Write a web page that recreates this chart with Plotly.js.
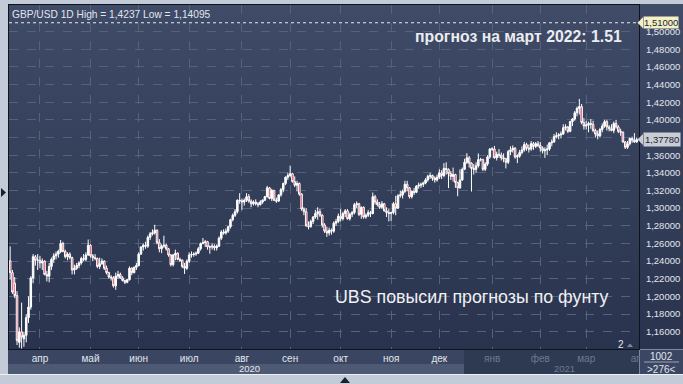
<!DOCTYPE html>
<html><head><meta charset="utf-8">
<script src="https://cdn.plot.ly/plotly-3.0.1.min.js"></script>
<style>
html,body{margin:0;padding:0;background:#c2cbd7;}
#wrap{position:relative;width:683px;height:384px;overflow:hidden;background:#c2cbd7;}
.bg{position:absolute;}
#chart{position:absolute;left:0;top:0;width:683px;height:384px;}
</style></head><body>
<div id="wrap">
 <div class="bg" style="left:8px;top:4px;width:675px;height:345px;background:linear-gradient(#3f4b67,#29334d);"></div>
 <div class="bg" style="left:8px;top:349px;width:631px;height:15px;background:#3a4661"></div>
 <div class="bg" style="left:8px;top:364px;width:631px;height:10px;background:#4e5a73"></div>
 <div class="bg" style="left:464px;top:349px;width:175px;height:25px;background:#2e3952"></div>
 <div class="bg" style="left:0;top:374px;width:683px;height:1px;background:#eef1f5"></div>
 <div id="chart"></div>
</div>
<script>
// ---- data (GBP/USD daily, 13 Mar 2020 .. 31 Mar 2021) ----
const startDate = '2020-03-13';
const endDate = '2021-03-31';

const open = [
 1.2405,1.2270,1.2150,1.2010,1.1480,1.1600,1.1520,1.1560,1.1760,1.1880,1.2210,1.2450,1.2410,
 1.2410,1.2380,1.2400,1.2250,1.2230,1.2340,1.2420,1.2460,1.2480,1.2510,1.2600,1.2510,1.2450,1.2480,1.2440,1.2300,1.2320,1.2350,1.2380,1.2430,1.2420,1.2470,
 1.2580,1.2460,1.2440,1.2430,1.2340,1.2370,1.2400,1.2320,1.2270,1.2220,1.2210,1.2120,1.2230,1.2250,1.2210,1.2180,1.2160,1.2190,1.2320,1.2270,1.2330,
 1.2350,1.2480,1.2560,1.2580,1.2570,1.2670,1.2710,1.2720,1.2750,1.2610,1.2540,1.2570,1.2580,1.2540,1.2470,1.2360,1.2470,1.2490,1.2420,1.2410,1.2340,1.2320,
 1.2400,1.2470,1.2475,1.2480,1.2490,1.2540,1.2600,1.2610,1.2620,1.2560,1.2560,1.2570,1.2550,1.2570,1.2660,1.2730,1.2720,1.2740,1.2790,1.2870,1.2920,1.2960,1.3090,
 1.3085,1.3070,1.3090,1.3130,1.3080,1.3050,1.3070,1.3050,1.3040,1.3070,1.3090,1.3130,1.3230,1.3110,1.3200,1.3090,1.3080,1.3150,1.3210,1.3280,1.3350,
 1.3370,1.3390,1.3300,1.3260,1.3280,1.3160,1.2990,1.2960,1.2800,1.2790,1.2850,1.2900,1.2940,1.2960,1.2920,1.2810,1.2740,1.2720,1.2750,1.2740,1.2830,1.2850,
 1.2910,1.2880,1.2940,1.2970,1.2880,1.2930,1.2950,1.3040,1.3050,1.2930,1.3010,1.2900,1.2920,1.2950,1.2940,1.3130,1.3070,1.3040,1.3010,1.3050,1.2970,1.2950,
 1.2940,1.2950,1.3050,1.3000,1.3140,1.3150,1.3190,1.3270,1.3230,1.3130,1.3190,1.3180,1.3250,1.3260,1.3270,1.3285,1.3320,1.3360,1.3370,1.3340,1.3320,
 1.3350,1.3400,1.3370,1.3450,1.3440,1.3390,1.3360,1.3380,1.3290,1.3230,1.3320,1.3440,1.3520,1.3570,1.3510,1.3450,1.3440,1.3480,1.3550,1.3550,1.3440,1.3500,1.3580,
 1.3670,1.3670,1.3570,1.3610,1.3600,1.3570,1.3560,1.3520,1.3640,1.3660,1.3680,1.3580,1.3590,1.3630,1.3660,1.3720,1.3680,1.3670,1.3730,1.3700,1.3730,
 1.3710,1.3680,1.3650,1.3660,1.3670,1.3740,1.3750,1.3810,1.3820,1.3830,1.3840,1.3910,1.3920,1.3870,1.3980,1.4010,1.4080,1.4130,1.4150,1.3970,
 1.3930,1.3940,1.3960,1.3950,1.3880,1.3840,1.3820,1.3890,1.3930,1.3980,1.3920,1.3900,1.3880,1.3960,1.3920,1.3870,1.3860,1.3750,1.3690,1.3730,1.3790,1.3770,1.3750
];
const high = [
 1.2567,1.2300,1.2220,1.2060,1.1650,1.1930,1.1600,1.1800,1.2000,1.2230,1.2480,1.2470,1.2480,
 1.2460,1.2430,1.2410,1.2290,1.2380,1.2440,1.2490,1.2510,1.2530,1.2640,1.2620,1.2530,1.2500,1.2500,1.2450,1.2360,1.2380,1.2400,1.2450,1.2480,1.2500,1.2645,
 1.2590,1.2480,1.2480,1.2440,1.2440,1.2430,1.2410,1.2350,1.2280,1.2240,1.2230,1.2270,1.2290,1.2270,1.2230,1.2190,1.2200,1.2340,1.2330,1.2340,1.2380,
 1.2500,1.2570,1.2600,1.2620,1.2690,1.2730,1.2760,1.2812,1.2760,1.2650,1.2590,1.2688,1.2600,1.2550,1.2480,1.2480,1.2530,1.2500,1.2440,1.2420,1.2380,1.2420,
 1.2500,1.2510,1.2500,1.2510,1.2560,1.2610,1.2662,1.2640,1.2630,1.2580,1.2600,1.2590,1.2590,1.2680,1.2750,1.2760,1.2770,1.2800,1.2880,1.2940,1.2990,1.3100,1.3170,
 1.3110,1.3110,1.3170,1.3160,1.3100,1.3090,1.3100,1.3070,1.3090,1.3100,1.3140,1.3253,1.3240,1.3220,1.3210,1.3120,1.3160,1.3230,1.3290,1.3360,1.3400,
 1.3482,1.3400,1.3360,1.3310,1.3290,1.3170,1.3010,1.3000,1.2850,1.2870,1.2910,1.2980,1.3010,1.2990,1.2930,1.2830,1.2790,1.2780,1.2770,1.2850,1.2880,1.2940,
 1.2990,1.2960,1.2990,1.2990,1.2950,1.2970,1.3060,1.3076,1.3060,1.3020,1.3020,1.2940,1.2980,1.2970,1.3177,1.3150,1.3100,1.3070,1.3080,1.3060,1.3010,1.2990,
 1.2960,1.3070,1.3140,1.3160,1.3200,1.3210,1.3310,1.3310,1.3240,1.3200,1.3230,1.3260,1.3290,1.3290,1.3300,1.3340,1.3380,1.3400,1.3380,1.3360,1.3380,
 1.3440,1.3430,1.3510,1.3520,1.3450,1.3420,1.3460,1.3390,1.3300,1.3440,1.3460,1.3560,1.3623,1.3590,1.3520,1.3500,1.3520,1.3620,1.3570,1.3560,1.3520,1.3600,1.3680,
 1.3690,1.3705,1.3640,1.3670,1.3630,1.3620,1.3570,1.3660,1.3700,1.3710,1.3690,1.3610,1.3660,1.3700,1.3750,1.3740,1.3720,1.3760,1.3750,1.3750,1.3760,
 1.3750,1.3700,1.3690,1.3720,1.3750,1.3780,1.3840,1.3860,1.3850,1.3870,1.3950,1.3950,1.3930,1.3990,1.4020,1.4100,1.4150,1.4237,1.4180,1.4020,
 1.3990,1.3980,1.4010,1.3990,1.3900,1.3880,1.3910,1.3960,1.4000,1.4000,1.3940,1.3950,1.3980,1.4000,1.3940,1.3900,1.3870,1.3760,1.3760,1.3800,1.3810,1.3850,1.3800
];
const low = [
 1.2190,1.2030,1.1980,1.1450,1.1420,1.1410,1.1430,1.1480,1.1700,1.1850,1.2150,1.2350,1.2300,
 1.2320,1.2300,1.2240,1.2170,1.2160,1.2300,1.2380,1.2420,1.2440,1.2490,1.2500,1.2430,1.2410,1.2420,1.2250,1.2250,1.2300,1.2320,1.2360,1.2400,1.2400,1.2460,
 1.2440,1.2400,1.2410,1.2320,1.2310,1.2360,1.2300,1.2250,1.2200,1.2180,1.2100,1.2075,1.2200,1.2200,1.2170,1.2140,1.2150,1.2180,1.2240,1.2260,1.2300,
 1.2340,1.2470,1.2520,1.2540,1.2550,1.2640,1.2690,1.2700,1.2590,1.2500,1.2490,1.2550,1.2520,1.2450,1.2340,1.2340,1.2410,1.2410,1.2390,1.2320,1.2255,1.2300,
 1.2380,1.2440,1.2450,1.2460,1.2480,1.2520,1.2590,1.2560,1.2530,1.2484,1.2530,1.2520,1.2520,1.2560,1.2640,1.2700,1.2700,1.2720,1.2770,1.2850,1.2900,1.2940,1.3050,
 1.2980,1.3030,1.3070,1.3060,1.3010,1.3030,1.3030,1.3010,1.3030,1.3050,1.3080,1.3120,1.3100,1.3080,1.3080,1.3060,1.3070,1.3130,1.3180,1.3260,1.3320,
 1.3350,1.3290,1.3240,1.3190,1.3140,1.2970,1.2920,1.2790,1.2760,1.2780,1.2820,1.2880,1.2870,1.2900,1.2780,1.2720,1.2675,1.2690,1.2700,1.2720,1.2800,1.2830,
 1.2850,1.2860,1.2900,1.2870,1.2860,1.2900,1.2930,1.3000,1.2910,1.2880,1.2880,1.2880,1.2900,1.2900,1.2930,1.3040,1.3020,1.2990,1.2990,1.2960,1.2900,1.2850,
 1.2855,1.2930,1.2920,1.2990,1.3120,1.3110,1.3170,1.3190,1.3110,1.3110,1.3150,1.3170,1.3220,1.3230,1.3240,1.3270,1.3300,1.3330,1.3310,1.3290,1.3300,
 1.3330,1.3330,1.3350,1.3380,1.3227,1.3320,1.3300,1.3230,1.3135,1.3220,1.3310,1.3430,1.3500,1.3460,1.3188,1.3380,1.3400,1.3460,1.3530,1.3420,1.3420,1.3480,1.3560,
 1.3650,1.3560,1.3540,1.3570,1.3540,1.3520,1.3450,1.3500,1.3600,1.3630,1.3560,1.3510,1.3570,1.3610,1.3640,1.3650,1.3630,1.3650,1.3660,1.3680,1.3690,
 1.3640,1.3620,1.3570,1.3600,1.3650,1.3700,1.3740,1.3790,1.3780,1.3790,1.3830,1.3880,1.3850,1.3860,1.3930,1.3990,1.4040,1.4060,1.3950,1.3890,
 1.3890,1.3860,1.3900,1.3860,1.3800,1.3780,1.3800,1.3860,1.3910,1.3880,1.3870,1.3870,1.3850,1.3900,1.3850,1.3820,1.3740,1.3670,1.3670,1.3710,1.3740,1.3740,1.3740
];
const close = [
 1.2270,1.2050,1.2010,1.1500,1.1600,1.1540,1.1560,1.1760,1.1880,1.2210,1.2450,1.2410,1.2410,
 1.2380,1.2400,1.2250,1.2230,1.2340,1.2420,1.2460,1.2480,1.2510,1.2600,1.2510,1.2450,1.2480,1.2440,1.2300,1.2320,1.2350,1.2380,1.2430,1.2420,1.2470,1.2580,
 1.2460,1.2440,1.2430,1.2340,1.2370,1.2400,1.2320,1.2270,1.2220,1.2210,1.2120,1.2230,1.2250,1.2210,1.2180,1.2160,1.2190,1.2320,1.2270,1.2330,1.2350,
 1.2480,1.2560,1.2580,1.2570,1.2670,1.2710,1.2720,1.2750,1.2610,1.2540,1.2570,1.2580,1.2540,1.2470,1.2360,1.2470,1.2490,1.2420,1.2410,1.2340,1.2320,1.2400,
 1.2470,1.2475,1.2480,1.2490,1.2540,1.2600,1.2610,1.2620,1.2560,1.2560,1.2570,1.2550,1.2570,1.2660,1.2730,1.2720,1.2740,1.2790,1.2870,1.2920,1.2960,1.3090,1.3085,
 1.3070,1.3090,1.3130,1.3080,1.3050,1.3070,1.3050,1.3040,1.3070,1.3090,1.3130,1.3230,1.3110,1.3200,1.3090,1.3080,1.3150,1.3210,1.3280,1.3350,1.3370,
 1.3390,1.3300,1.3260,1.3280,1.3160,1.2990,1.2960,1.2800,1.2790,1.2850,1.2900,1.2940,1.2960,1.2920,1.2810,1.2740,1.2720,1.2750,1.2740,1.2830,1.2850,1.2910,
 1.2880,1.2940,1.2970,1.2880,1.2930,1.2950,1.3040,1.3050,1.2930,1.3010,1.2900,1.2920,1.2950,1.2940,1.3130,1.3070,1.3040,1.3010,1.3050,1.2970,1.2950,1.2940,
 1.2950,1.3050,1.3000,1.3140,1.3150,1.3190,1.3270,1.3230,1.3130,1.3190,1.3180,1.3250,1.3260,1.3270,1.3285,1.3320,1.3360,1.3370,1.3340,1.3320,1.3350,
 1.3400,1.3370,1.3450,1.3440,1.3390,1.3360,1.3380,1.3290,1.3230,1.3320,1.3440,1.3520,1.3570,1.3510,1.3450,1.3440,1.3480,1.3550,1.3550,1.3440,1.3500,1.3580,1.3670,
 1.3670,1.3570,1.3610,1.3600,1.3570,1.3560,1.3520,1.3640,1.3660,1.3680,1.3580,1.3590,1.3630,1.3660,1.3720,1.3680,1.3670,1.3730,1.3700,1.3730,1.3710,
 1.3680,1.3650,1.3660,1.3670,1.3740,1.3750,1.3810,1.3820,1.3830,1.3840,1.3910,1.3920,1.3870,1.3980,1.4010,1.4080,1.4130,1.4150,1.3970,1.3930,
 1.3940,1.3960,1.3950,1.3880,1.3840,1.3820,1.3890,1.3930,1.3980,1.3920,1.3900,1.3880,1.3960,1.3920,1.3870,1.3860,1.3750,1.3690,1.3730,1.3790,1.3770,1.3750,1.3778
];
const monthNames = ['янв','фев','мар','апр','май','июн','июл','авг','сен','окт','ноя','дек'];
const yTicks = [1.16,1.18,1.20,1.22,1.24,1.26,1.28,1.30,1.32,1.34,1.36,1.40,1.42,1.44,1.46,1.48,1.50];
const hiddenGrid = 1.38;
const forecastLevel = 1.51;
const headerText = 'GBP/USD 1D High = 1,4237 Low = 1,14095';
const forecastText = 'прогноз на март 2022: 1.51';
const newsText = 'UBS повысил прогнозы по фунту';

// ---- trading days (weekdays) ----
const dates = [];
{
  const d = new Date(startDate + 'T00:00:00Z');
  const e = new Date(endDate + 'T00:00:00Z');
  while (d <= e) {
    const wd = d.getUTCDay();
    if (wd !== 0 && wd !== 6) dates.push(d.toISOString().slice(0, 10));
    d.setUTCDate(d.getUTCDate() + 1);
  }
}
const n = Math.min(dates.length, open.length, high.length, low.length, close.length);
const xIdx = dates.slice(0, n).map((_, i) => i);

const tickvals = [], ticktext = [];
const dim = '#6d7992';
function lab(m, y) {
  const t = monthNames[m - 1];
  return y >= 2021 ? '<span style="color:' + dim + '">' + t + '</span>' : t;
}
for (let i = 1; i < n; i++) {
  if (dates[i].slice(5, 7) !== dates[i - 1].slice(5, 7)) {
    tickvals.push(i);
    ticktext.push(lab(+dates[i].slice(5, 7), +dates[i].slice(0, 4)));
  }
}
{
  const lm = +dates[n - 1].slice(5, 7), ly = +dates[n - 1].slice(0, 4);
  const nm = lm === 12 ? 1 : lm + 1, ny = lm === 12 ? ly + 1 : ly;
  tickvals.push(n); ticktext.push(lab(nm, ny));
}
let jan = dates.findIndex(d => d.startsWith('2021'));
const yearCentres = [(-0.5 + jan - 0.5) / 2, (jan - 0.5 + n) / 2];

// ---- pixel helpers for layout placement ----
const L = 9, T = 5, W = 630, H = 344;
const px = x => (x - L) / W;
const py = y => 1 - (y - T) / H;
const yRange = [1.1405, 1.5301];
const unitsPerPx = (yRange[1] - yRange[0]) / H;

function fmt(v) { return v.toFixed(5).replace('.', ','); }
function pointer(level, color) {
  const hh = 5.5 * unitsPerPx;
  return {type: 'path', xref: 'paper', yref: 'y', fillcolor: color, line: {width: 0}, layer: 'above',
    path: 'M' + px(637.5) + ',' + level + ' L' + px(643) + ',' + (level + hh) + ' L' + px(643) + ',' + (level - hh) + ' Z'};
}

const trace = {
  type: 'candlestick',
  x: xIdx,
  open: open.slice(0, n), high: high.slice(0, n), low: low.slice(0, n), close: close.slice(0, n),
  increasing: {line: {color: '#ffffff', width: 1}, fillcolor: '#ffffff'},
  decreasing: {line: {color: '#ffffff', width: 1}, fillcolor: '#e3122f'},
  whiskerwidth: 0,
  hoverinfo: 'skip'
};

const lastClose = close[n - 1];
const lightText = '#e2e6ee';
const tagYellow = '#f3f0c6', tagGrey = '#c9cdd5';

const layout = {
  width: 683, height: 384,
  margin: {l: L, r: 683 - L - W, t: T, b: 384 - T - H},
  paper_bgcolor: 'rgba(0,0,0,0)', plot_bgcolor: 'rgba(0,0,0,0)',
  separators: ', ',
  showlegend: false,
  hovermode: false,
  boxgap: 0.05,
  font: {family: '"Liberation Sans", Arial, sans-serif', size: 10, color: lightText},
  xaxis: {
    range: [-0.5, n], tickvals: tickvals, ticktext: ticktext,
    showgrid: true, gridcolor: '#56627c', griddash: 'dash', gridwidth: 1,
    zeroline: false, showline: true, linecolor: '#0f141c', linewidth: 1, mirror: true,
    ticks: '', tickfont: {size: 10, color: lightText},
    rangeslider: {visible: false}, fixedrange: true
  },
  yaxis: {
    side: 'right', range: yRange, tickvals: yTicks, tickformat: '.5f',
    showgrid: true, gridcolor: '#56627c', griddash: 'dash', gridwidth: 1,
    zeroline: false, showline: true, linecolor: '#0f141c', linewidth: 1, mirror: true,
    ticks: '', ticklabelstandoff: 4, tickfont: {size: 9.5, color: lightText}, fixedrange: true
  },
  shapes: [
    {type: 'line', xref: 'paper', yref: 'y', x0: 0, x1: 1, y0: hiddenGrid, y1: hiddenGrid, layer: 'below',
     line: {color: '#56627c', width: 1, dash: 'dash'}},
    {type: 'line', xref: 'paper', yref: 'y', x0: 0, x1: 1, y0: forecastLevel, y1: forecastLevel,
     line: {color: '#e8ebf0', width: 1, dash: 'dot'}},
    // left and bottom scroll markers
    {type: 'path', xref: 'paper', yref: 'paper', fillcolor: '#1b202b', line: {width: 0},
     path: 'M' + px(1) + ',' + py(188) + ' L' + px(6) + ',' + py(192.5) + ' L' + px(1) + ',' + py(197) + ' Z'},
    {type: 'path', xref: 'paper', yref: 'paper', fillcolor: '#1b202b', line: {width: 0},
     path: 'M' + px(340) + ',' + py(383) + ' L' + px(345) + ',' + py(377) + ' L' + px(350) + ',' + py(383) + ' Z'},
    // small marker right of "2"
    {type: 'path', xref: 'paper', yref: 'paper', fillcolor: '#7f899c', line: {width: 0},
     path: 'M' + px(627) + ',' + py(347) + ' L' + px(630) + ',' + py(343.5) + ' L' + px(633) + ',' + py(347) + ' Z'},
    // bottom-right counter box (covers overflow of the last month label)
    {type: 'rect', xref: 'paper', yref: 'paper', layer: 'above', x0: px(639.5), x1: px(683), y0: py(349.5), y1: py(374),
     fillcolor: '#3b4762', line: {width: 0}},
    {type: 'line', xref: 'paper', yref: 'paper', layer: 'above', x0: px(644), x1: px(679), y0: py(362), y1: py(362),
     line: {color: '#9aa4b6', width: 1}},
    pointer(forecastLevel, tagYellow),
    pointer(lastClose, tagGrey)
  ],
  annotations: [
    {xref: 'paper', yref: 'paper', x: px(10), y: py(14), xanchor: 'left', yanchor: 'middle',
     text: headerText, showarrow: false, font: {size: 10.2, color: lightText}},
    {xref: 'paper', yref: 'paper', x: px(624), y: py(37), xanchor: 'right', yanchor: 'middle',
     text: '<b>' + forecastText + '</b>', showarrow: false, font: {size: 15.8, color: '#ebecf0'}},
    {xref: 'paper', yref: 'paper', x: px(333), y: py(297), xanchor: 'left', yanchor: 'middle',
     text: newsText, showarrow: false, font: {size: 17.8, color: '#f0f1f4'}},
    {xref: 'paper', yref: 'paper', x: px(621), y: py(344), xanchor: 'center', yanchor: 'middle',
     text: '2', showarrow: false, font: {size: 10, color: lightText}},
    {xref: 'x', yref: 'paper', x: yearCentres[0], y: py(368), xanchor: 'center', yanchor: 'middle',
     text: '2020', showarrow: false, font: {size: 9.5, color: lightText}},
    {xref: 'x', yref: 'paper', x: yearCentres[1], y: py(368), xanchor: 'center', yanchor: 'middle',
     text: '2021', showarrow: false, font: {size: 9.5, color: dim}},
    {xref: 'paper', yref: 'paper', x: px(661), y: py(356), xanchor: 'center', yanchor: 'middle',
     text: '1002', showarrow: false, font: {size: 10, color: lightText}},
    {xref: 'paper', yref: 'paper', x: px(661), y: py(369), xanchor: 'center', yanchor: 'middle',
     text: '&gt;276&lt;', showarrow: false, font: {size: 10, color: lightText}},
    {xref: 'paper', yref: 'y', x: px(643), y: forecastLevel, xanchor: 'left', yanchor: 'middle',
     text: fmt(forecastLevel), showarrow: false, bgcolor: tagYellow, borderpad: 0,
     font: {size: 9.5, color: '#1c2230'}},
    {xref: 'paper', yref: 'y', x: px(643), y: lastClose, xanchor: 'left', yanchor: 'middle',
     text: fmt(lastClose), showarrow: false, bgcolor: tagGrey, borderpad: 1,
     font: {size: 9.5, color: '#1c2230'}}
  ]
};

Plotly.newPlot('chart', [trace], layout, {staticPlot: true, displayModeBar: false});
</script>
</body></html>
